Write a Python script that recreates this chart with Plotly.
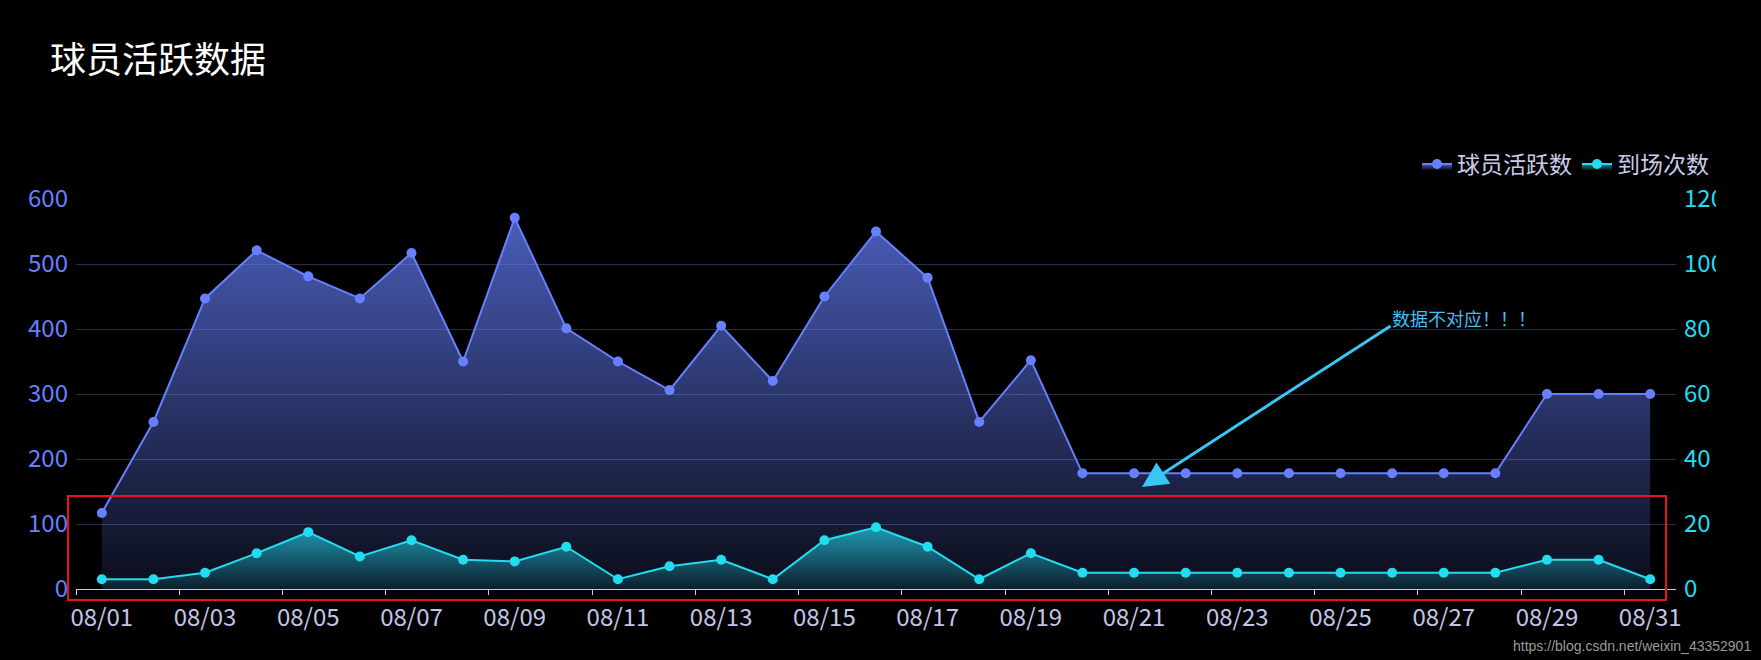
import plotly.graph_objects as go

dates = ["08/01", "08/02", "08/03", "08/04", "08/05", "08/06", "08/07", "08/08",
         "08/09", "08/10", "08/11", "08/12", "08/13", "08/14", "08/15", "08/16",
         "08/17", "08/18", "08/19", "08/20", "08/21", "08/22", "08/23", "08/24",
         "08/25", "08/26", "08/27", "08/28", "08/29", "08/30", "08/31"]

active_players = [117, 257, 447, 521, 481, 447, 517, 350, 571, 401, 350, 306, 405, 320,
                  450, 550, 479, 257, 352, 178, 178, 178, 178, 178, 178, 178, 178, 178,
                  300, 300, 300]

attendance = [3, 3, 5, 11, 17.5, 10, 15, 9, 8.5, 13, 3, 7, 9, 3, 15, 19, 13, 3, 11,
              5, 5, 5, 5, 5, 5, 5, 5, 5, 9, 9, 3]

FONT = "Noto Sans CJK SC, Microsoft YaHei, sans-serif"
W, H = 1761, 660
L, R, T, B = 76, 85, 199, 71
PW, PH = W - L - R, H - T - B


def px_x(px):
    return (px - L) / PW


def px_y(py):
    return (H - B - py) / PH


fig = go.Figure()
fig.add_trace(go.Scatter(
    x=dates, y=active_players, name="球员活跃数", mode="lines+markers",
    line=dict(color="#6680ff", width=2),
    marker=dict(size=10, color="#6680ff"),
    fill="tozeroy",
    fillgradient=dict(type="vertical",
                      colorscale=[[0, "rgba(102,128,255,0.1)"], [1, "rgba(102,128,255,0.72)"]],
                      start=0, stop=max(active_players)),
))
fig.add_trace(go.Scatter(
    x=dates, y=attendance, name="到场次数", mode="lines+markers", yaxis="y2",
    line=dict(color="#22dcf0", width=2),
    marker=dict(size=10, color="#22dcf0"),
    fill="tozeroy",
    fillgradient=dict(type="vertical",
                      colorscale=[[0, "rgba(34,220,240,0.08)"], [1, "rgba(34,220,240,0.65)"]],
                      start=0, stop=max(attendance)),
))

fig.update_layout(
    width=W, height=H,
    margin=dict(l=L, r=R, t=T, b=B, pad=0, autoexpand=False),
    paper_bgcolor="#000000", plot_bgcolor="#000000",
    font=dict(family=FONT),
    title=dict(text="球员活跃数据", x=50 / W, xanchor="left", xref="container",
               y=1 - 60 / H, yanchor="middle", yref="container",
               font=dict(size=36, color="#ffffff", family=FONT)),
    showlegend=True,
    legend=dict(orientation="h", x=px_x(1714), xanchor="right", y=px_y(164), yanchor="middle",
                font=dict(size=23, color="#c8cce8", family=FONT),
                bgcolor="rgba(0,0,0,0)", itemwidth=30, tracegroupgap=0),
    xaxis=dict(type="category", range=[-0.5, 30.5], tickmode="linear", tick0=0, dtick=2,
               tickson="boundaries", ticks="outside", ticklen=5, tickcolor="#c8cce8",
               showline=True, linecolor="#c8cce8", linewidth=1, showgrid=False,
               zeroline=False, tickangle=0, automargin=False,
               tickfont=dict(size=24, color="#c0c6e8", family=FONT),
               ticklabelstandoff=7),
    yaxis=dict(range=[0, 600], tickmode="linear", tick0=0, dtick=100, automargin=False,
               showgrid=True, gridcolor="#2a2e48", gridwidth=1, zeroline=False,
               showline=False, ticks="", ticklabelstandoff=7,
               tickfont=dict(size=24, color="#6680ff", family=FONT)),
    yaxis2=dict(range=[0, 120], tickmode="linear", tick0=0, dtick=20, overlaying="y",
                side="right", showgrid=False, zeroline=False, showline=False, ticks="",
                ticklabelstandoff=7, automargin=False,
                tickfont=dict(size=24, color="#22dcf0", family=FONT)),
    hovermode=False,
)

fig.add_shape(type="rect", xref="paper", yref="paper",
              x0=px_x(1716), x1=px_x(1761), y0=px_y(600), y1=px_y(185),
              fillcolor="#000000", line=dict(width=0), layer="above")
fig.add_shape(type="rect", xref="paper", yref="paper",
              x0=px_x(68), x1=px_x(1666), y0=px_y(600), y1=px_y(496),
              line=dict(color="#e8131f", width=2), fillcolor="rgba(0,0,0,0)", layer="above")

fig.add_annotation(x=px_x(1142), y=px_y(487), xref="paper", yref="paper",
                   ax=250, ay=-162, axref="pixel", ayref="pixel",
                   text="", showarrow=True, arrowhead=2, arrowsize=1.7,
                   arrowwidth=3, arrowcolor="#38c6f4")
fig.add_annotation(x=px_x(1390), y=px_y(318), xref="paper", yref="paper",
                   text="数据不对应！！！", showarrow=False, xanchor="left", yanchor="middle",
                   font=dict(size=18, color="#40bff0", family=FONT))
fig.add_annotation(x=px_x(1752), y=px_y(646), xref="paper", yref="paper",
                   text="https://blog.csdn.net/weixin_43352901", showarrow=False,
                   xanchor="right", yanchor="middle", borderpad=0,
                   font=dict(size=14, color="#9a9a9a", family="Liberation Sans, Arial"))

fig.write_html("out.html")
